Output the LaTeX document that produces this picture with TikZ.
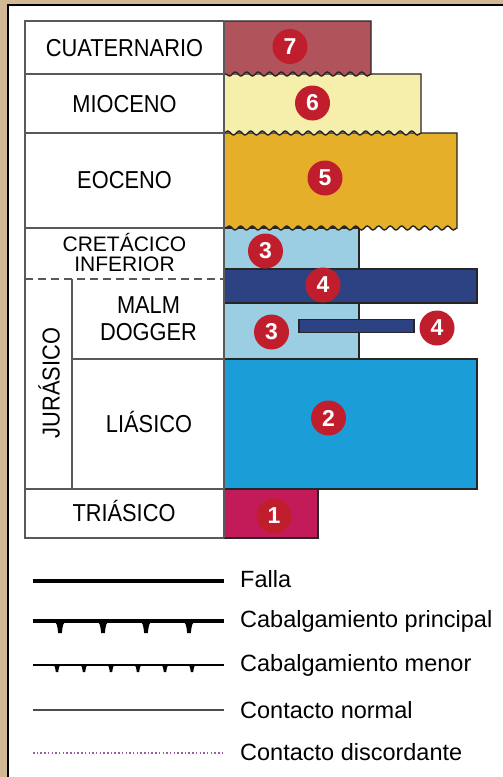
\documentclass[tikz,border=0pt]{standalone}
\usepackage{fontspec}
\setmainfont{Liberation Sans}
\newfontfamily\tablafont[FakeStretch=0.89]{Liberation Sans}
\usetikzlibrary{decorations.pathmorphing}
\definecolor{fondo}{RGB}{210,184,148}
\definecolor{rojo}{RGB}{193,30,45}
\definecolor{cuaternario}{RGB}{176,83,91}
\definecolor{mioceno}{RGB}{246,239,171}
\definecolor{eoceno}{RGB}{229,175,42}
\definecolor{cretacico}{RGB}{155,205,227}
\definecolor{cabalga}{RGB}{44,66,130}
\definecolor{liasico}{RGB}{27,157,215}
\definecolor{triasico}{RGB}{195,26,90}
\definecolor{discorde}{RGB}{160,90,170}
\tikzset{
  >=latex,
  line join=round,
}
\tikzstyle{unidad}=[draw=black!85,line width=1.4pt]
\tikzstyle{onda}=[decoration={snake,segment length=11.5pt,amplitude=2pt}]
\tikzstyle{tabla}=[draw=black!65,line width=1.4pt]
\tikzstyle{etiqueta}=[anchor=base,inner sep=0,font=\tablafont\fontsize{24.5}{27}\selectfont]
\tikzstyle{etiquetab}=[anchor=base,inner sep=0,font=\fontsize{21}{20}\selectfont]
\tikzstyle{numero}=[circle,fill=rojo,text=white,minimum size=35pt,inner sep=0,font=\bfseries\fontsize{23}{23}\selectfont]
\tikzstyle{leyenda}=[anchor=west,inner sep=0,font=\fontsize{23.5}{23.5}\selectfont]

\begin{document}
\begin{tikzpicture}[x=1pt,y=-1pt]
    \useasboundingbox (0,0) rectangle (503,777);
    \fill[fondo] (0,0) rectangle (503,777);
    \fill[white] (8,5) rectangle (503,777);
    \draw[line width=2.5pt] (8,777) -- (8,5) -- (503,5);
    % unidades
    \filldraw[unidad,fill=triasico] (224,489) rectangle (318,538);
    \filldraw[unidad,fill=liasico] (224,359) rectangle (477,489);
    \filldraw[unidad,fill=cretacico] (224,303) rectangle (359,359);
    \filldraw[unidad,fill=cretacico] (224,228) rectangle (359,270);
    \filldraw[unidad,fill=cabalga] (224,269) rectangle (477,303);
    \filldraw[unidad,fill=cabalga] (299,319.5) rectangle (414,332.5);
    \filldraw[unidad,fill=eoceno,onda] (224,133) -- (457,133) -- (457,228) decorate{-- (224,228)} -- cycle;
    \filldraw[unidad,fill=mioceno,onda] (224,74) -- (421,74) -- (421,133) decorate{-- (224,133)} -- cycle;
    \filldraw[unidad,fill=cuaternario,onda] (224,21) -- (371,21) -- (371,74) decorate{-- (224,74)} -- cycle;
    % tabla
    \draw[tabla] (224,21) -- (25,21) -- (25,538) -- (224,538);
    \draw[tabla] (224,21) -- (224,538);
    \foreach \y in {74,133,228,489}
      \draw[tabla] (25,\y) -- (224,\y);
    \draw[tabla,dash pattern=on 8pt off 5pt] (25,279) -- (224,279);
    \draw[tabla] (72,279) -- (72,489);
    \draw[tabla] (72,359) -- (224,359);
    \node[etiqueta] (cuat) at (124.5,56.5) {CUATERNARIO};
    \node[etiqueta] (mio) at (124.5,112.3) {MIOCENO};
    \node[etiqueta] (eoc) at (124.5,188.3) {EOCENO};
    \node[etiquetab] (cret) at (124.5,251.7) {CRETÁCICO};
    \node[etiquetab] (inf) at (124.5,271.7) {INFERIOR};
    \node[etiqueta] (malm) at (148.5,313.3) {MALM};
    \node[etiqueta] (dogg) at (148.5,340) {DOGGER};
    \node[etiqueta] (lias) at (149,432) {LIÁSICO};
    \node[etiqueta] (trias) at (124,521) {TRIÁSICO};
    \node[etiqueta,anchor=center,rotate=90] (jur) at (49,383) {JURÁSICO};
    % numeros
    \node[numero] (n7) at (290,46.5) {7};
    \node[numero] (n6) at (312.5,103) {6};
    \node[numero] (n5) at (325,178) {5};
    \node[numero] (n3a) at (265.5,251) {3};
    \node[numero] (n4a) at (323,285) {4};
    \node[numero] (n3b) at (271.5,332) {3};
    \node[numero] (n4b) at (437,328) {4};
    \node[numero] (n2) at (328.5,418) {2};
    \node[numero] (n1) at (274,516) {1};
    % leyenda
    \node[leyenda] (falla) at (240,579) {Falla};
    \node[leyenda] (princ) at (240,621) {Cabalgamiento principal};
    \node[leyenda] (menor) at (240,665) {Cabalgamiento menor};
    \node[leyenda] (normal) at (240,710) {Contacto normal};
    \node[leyenda] (disc) at (240,752) {Contacto discordante};
    \draw[line width=3.2pt] (33,581) -- (224,581);
    \draw[line width=3.2pt] (33,621) -- (224,621);
    \foreach \x in {60,103,146,189}
      \fill (\x-5.5,621) .. controls (\x-3,624) .. (\x-1.8,633) -- (\x+1.8,633) .. controls (\x+3,624) .. (\x+5.5,621) -- cycle;
    \draw[line width=2pt] (33,665) -- (224,665);
    \foreach \x in {57,84,111,138,165,192}
      \fill (\x-3.5,665) .. controls (\x-2,666.5) .. (\x-1.2,672) -- (\x+1.2,672) .. controls (\x+2,666.5) .. (\x+3.5,665) -- cycle;
    \draw[line width=1.3pt,black!70] (33,710) -- (224,710);
    \draw[line width=1.3pt,discorde,dash pattern=on 1.5pt off 2.2pt] (33,753) -- (224,753);
\end{tikzpicture}
\end{document}
